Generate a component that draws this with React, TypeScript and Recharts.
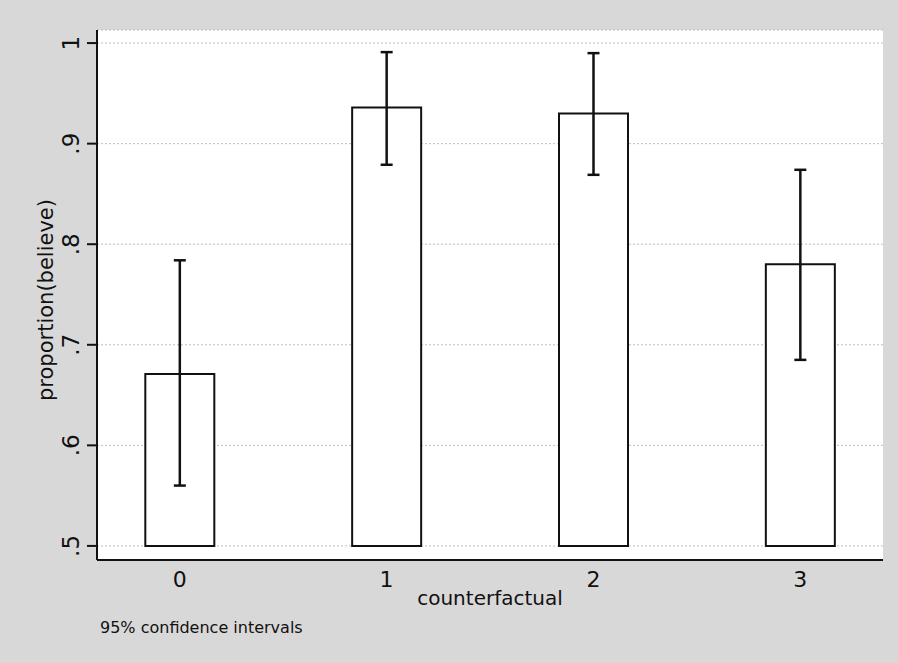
import { Bar, BarChart, CartesianGrid, ErrorBar, Label, XAxis, YAxis } from "recharts";

// proportion believing, by counterfactual condition, with 95% CI bounds
const conditions = [0, 1, 2, 3];
const proportions = [0.671, 0.936, 0.93, 0.78];
const ciLow = [0.56, 0.879, 0.869, 0.685];
const ciHigh = [0.784, 0.991, 0.99, 0.874];
const yTicks = [0.5, 0.6, 0.7, 0.8, 0.9, 1];
const baseline = 0.5;

const data = conditions.map((c, i) => ({
  counterfactual: c,
  range: [baseline, proportions[i]],
  ci: [proportions[i] - ciLow[i], ciHigh[i] - proportions[i]]
}));

const FONT = "'DejaVu Sans', Verdana, sans-serif";
const INK = "#111";

const fmtY = (v: number) => (v >= 1 ? "1" : "." + Math.round(v * 10));

function YTick({ y, payload }: any) {
  const cx = 71;
  return (
    <g>
      <line x1={87} x2={97} y1={y} y2={y} stroke={INK} strokeWidth={2} />
      <text
        x={cx}
        y={y}
        transform={`rotate(-90, ${cx}, ${y})`}
        textAnchor="middle"
        dominantBaseline="central"
        fontFamily={FONT}
        fontSize={23}
        fill={INK}
      >
        {fmtY(payload.value)}
      </text>
    </g>
  );
}

function XTick({ x, y, payload }: any) {
  return (
    <text x={x} y={y + 11} textAnchor="middle" dominantBaseline="central" fontFamily={FONT} fontSize={22} fill={INK}>
      {payload.value}
    </text>
  );
}

export default function App() {
  return (
    <div style={{ position: "fixed", left: 0, top: 0, width: 898, height: 663, background: "#d8d8d8" }}>
      <BarChart width={898} height={663} data={data} margin={{ top: 30, right: 15, bottom: 0, left: 0 }}>
        <CartesianGrid horizontal vertical={false} fill="#ffffff" stroke="#bdbdbd" strokeDasharray="2 2" />
        <XAxis
          dataKey="counterfactual"
          type="number"
          domain={[-0.4, 3.4]}
          ticks={conditions}
          height={103}
          tickLine={false}
          axisLine={{ stroke: INK, strokeWidth: 2 }}
          tick={<XTick />}
        >
          <Label
            content={() => (
              <text x={490} y={598} textAnchor="middle" dominantBaseline="central" fontFamily={FONT} fontSize={20} fill={INK}>
                counterfactual
              </text>
            )}
          />
        </XAxis>
        <YAxis
          type="number"
          domain={[0.486, 1.013]}
          ticks={yTicks}
          width={97}
          tickLine={false}
          axisLine={{ stroke: INK, strokeWidth: 2 }}
          tick={<YTick />}
        >
          <Label
            content={() => (
              <text
                x={46}
                y={300}
                transform="rotate(-90, 46, 300)"
                textAnchor="middle"
                dominantBaseline="central"
                fontFamily={FONT}
                fontSize={21}
                fill={INK}
              >
                proportion(believe)
              </text>
            )}
          />
        </YAxis>
        <Bar dataKey="range" fill="#ffffff" stroke={INK} strokeWidth={2} barSize={69} isAnimationActive={false}>
          <ErrorBar dataKey="ci" direction="y" width={6} stroke={INK} strokeWidth={2.5} />
        </Bar>
      </BarChart>
      <div
        style={{
          position: "absolute",
          left: 100,
          top: 618,
          fontFamily: FONT,
          fontSize: 16,
          color: INK,
          whiteSpace: "nowrap"
        }}
      >
        95% confidence intervals
      </div>
    </div>
  );
}
